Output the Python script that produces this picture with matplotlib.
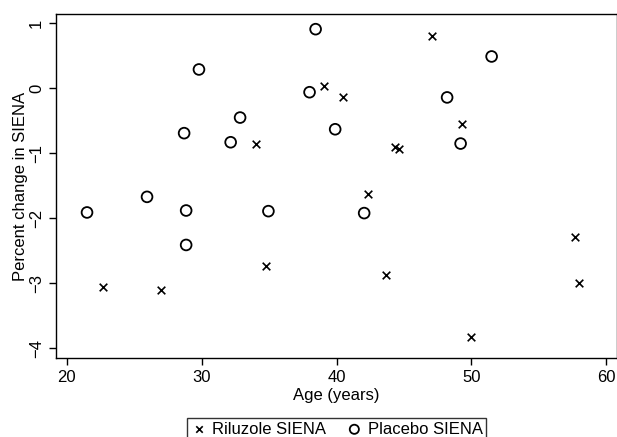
import numpy as np
import matplotlib
matplotlib.use("Agg")
from matplotlib import pyplot as plt

plt.rcParams['font.family'] = ['Liberation Sans', 'DejaVu Sans']

# Placebo group (circles)
placebo_age = [21.5, 25.95, 28.7, 28.85, 28.85, 29.8, 32.15, 32.85, 34.95,
               38.0, 38.45, 39.9, 42.05, 48.2, 49.2, 51.5]
placebo_siena = [-1.91, -1.67, -0.69, -1.88, -2.41, 0.29, -0.83, -0.45, -1.89,
                 -0.06, 0.91, -0.63, -1.92, -0.14, -0.85, 0.49]

# Riluzole group (crosses)
riluzole_age = [22.7, 27.0, 34.0, 34.8, 39.1, 40.45, 42.3, 43.7, 44.35,
                44.6, 47.05, 49.3, 50.0, 57.7, 57.95]
riluzole_siena = [-3.05, -3.11, -0.85, -2.73, 0.04, -0.13, -1.63, -2.88, -0.91,
                  -0.94, 0.80, -0.55, -3.82, -2.28, -3.00]

xticks = [20, 30, 40, 50, 60]
yticks = [-4, -3, -2, -1, 0, 1]

fig = plt.figure(figsize=(6.17, 4.37), dpi=100)
ax = fig.add_axes([56 / 617, 1 - 358.3 / 437, 560.5 / 617, (358.3 - 13.7) / 437])

ax.scatter(riluzole_age, riluzole_siena, marker='x', s=30, c='black',
           linewidths=1.2, label='Riluzole SIENA')
ax.scatter(placebo_age, placebo_siena, marker='o', s=60, facecolors='none',
           edgecolors='black', linewidths=1.3, label='Placebo SIENA')

ax.set_xlim(19.2, 60.76)
ax.set_ylim(-4.154, 1.148)
ax.set_xticks(xticks)
ax.set_yticks(yticks)
ax.tick_params(axis='both', direction='out', length=5, width=1, colors='black',
               labelsize=12)
ax.tick_params(axis='y', labelrotation=90)
for lab in ax.get_yticklabels():
    lab.set_verticalalignment('center')

for sp in ax.spines.values():
    sp.set_linewidth(1.0)
    sp.set_color('black')

ax.set_xlabel('Age (years)', fontsize=12, labelpad=2)
ax.set_ylabel('Percent change in SIENA', fontsize=12, labelpad=1)

leg = fig.legend(loc='upper center', bbox_to_anchor=(336.5 / 617, 1 - 410 / 437),
                 ncol=2, fontsize=12, frameon=True, fancybox=False,
                 edgecolor='black', handletextpad=0.3, columnspacing=1.2,
                 handlelength=1.0, borderpad=0.2, markerscale=0.85)
leg.get_frame().set_linewidth(1.0)

fig.savefig('out.png', dpi=100)
